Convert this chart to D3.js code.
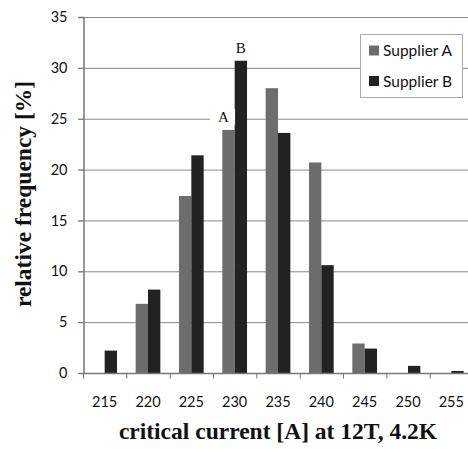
<!DOCTYPE html>
<html>
<head>
<meta charset="utf-8">
<script src="https://cdn.jsdelivr.net/npm/d3@7"></script>
<style>
  html, body { margin: 0; padding: 0; background: #fff; }
  svg { display: block; }
</style>
</head>
<body>
<svg id="chart" width="468" height="449"></svg>
<script>
// Critical current bins [A] at 12T, 4.2K
const categories = ["215", "220", "225", "230", "235", "240", "245", "250", "255"];
const seriesNames = ["Supplier A", "Supplier B"];
const supplierA = [0, 6.8, 17.4, 23.9, 28.0, 20.7, 2.9, 0, 0];
const supplierB = [2.2, 8.2, 21.4, 30.7, 23.6, 10.6, 2.4, 0.7, 0.2];
const yTicks = [0, 5, 10, 15, 20, 25, 30, 35];
const colors = ["#6d6d6d", "#222222"];
// Letters marking the peak bars of each supplier
const annotations = [
  { series: 0, cat: "230", text: "A", dx: -5 },
  { series: 1, cat: "230", text: "B", dx: 0 }
];

const svg = d3.select("#chart");
const plotLeft = 83, plotRight = 473, plotTop = 17, plotBottom = 373;

const x0 = d3.scaleBand().domain(categories).range([plotLeft, plotRight])
  .paddingInner(0.43).paddingOuter(0.215);
const x1 = d3.scaleBand().domain(seriesNames).range([0, x0.bandwidth()]);
const y = d3.scaleLinear().domain([0, 35]).range([plotBottom, plotTop]);

const series = [supplierA, supplierB];
const sansFont = "Lato, 'Open Sans', sans-serif";
const serifFont = "'Liberation Serif', 'Times New Roman', serif";

// Horizontal gridlines
svg.append("g")
  .selectAll("line")
  .data(yTicks.filter(d => d > 0))
  .join("line")
  .attr("x1", plotLeft - 5).attr("x2", 468)
  .attr("y1", d => y(d) + 0.5).attr("y2", d => y(d) + 0.5)
  .attr("stroke", "#8a8a8a").attr("stroke-width", 1);

// Bars
const groups = svg.append("g")
  .selectAll("g")
  .data(categories)
  .join("g")
  .attr("transform", d => `translate(${x0(d)},0)`);

groups.selectAll("rect")
  .data((c, i) => seriesNames.map((s, k) => ({ s, k, v: series[k][i] })).filter(d => d.v > 0))
  .join("rect")
  .attr("x", d => x1(d.s))
  .attr("width", x1.bandwidth())
  .attr("y", d => y(d.v))
  .attr("height", d => y(0) - y(d.v))
  .attr("fill", d => colors[d.k]);

// Y axis
const yAxis = svg.append("g")
  .attr("transform", `translate(${plotLeft + 0.5},0)`)
  .call(d3.axisLeft(y).tickValues(yTicks).tickSize(5).tickPadding(11));
yAxis.select(".domain").attr("stroke", "#777").attr("stroke-width", 1.5);
yAxis.selectAll(".tick line").attr("stroke", "#777");
yAxis.selectAll("text")
  .attr("font-family", sansFont)
  .attr("font-size", 14.5).attr("fill", "#111");

// X axis with ticks at band boundaries
const xAxisG = svg.append("g")
  .attr("transform", `translate(0,${plotBottom + 0.5})`);
xAxisG.append("line")
  .attr("x1", plotLeft).attr("x2", 468)
  .attr("stroke", "#777").attr("stroke-width", 1.5);
const step = x0.step();
xAxisG.selectAll(".bt")
  .data(categories)
  .join("line")
  .attr("class", "bt")
  .attr("x1", d => x0(d) - (x0.paddingInner() * step) / 2 + 0.5)
  .attr("x2", d => x0(d) - (x0.paddingInner() * step) / 2 + 0.5)
  .attr("y1", 0).attr("y2", 5)
  .attr("stroke", "#777");
xAxisG.selectAll(".lbl")
  .data(categories)
  .join("text")
  .attr("class", "lbl")
  .attr("x", d => x0(d) + x0.bandwidth() / 2)
  .attr("y", 33)
  .attr("text-anchor", "middle")
  .attr("font-family", sansFont)
  .attr("font-size", 14.5).attr("fill", "#111")
  .text(d => d);

// Annotation letters above the peak bars
annotations.forEach(a => {
  const ci = categories.indexOf(a.cat);
  const cx = x0(a.cat) + x1(seriesNames[a.series]) + x1.bandwidth() / 2 + a.dx;
  const ty = y(series[a.series][ci]) - 8;
  const t = svg.append("text")
    .attr("x", cx).attr("y", ty)
    .attr("text-anchor", "middle")
    .attr("font-family", serifFont)
    .attr("font-size", 15).attr("fill", "#111")
    .text(a.text);
  const bb = t.node().getBBox();
  if (a.series === 0) {
    // white backing so the gridline breaks around the letter
    svg.insert("rect", () => t.node())
      .attr("x", bb.x - 8).attr("y", bb.y)
      .attr("width", bb.width + 14).attr("height", bb.height)
      .attr("fill", "#fff");
  }
});

// Legend
const lg = svg.append("g");
lg.append("rect")
  .attr("x", 360.5).attr("y", 34.5).attr("width", 102).attr("height", 63)
  .attr("fill", "#fff").attr("stroke", "#aaa");
seriesNames.forEach((s, k) => {
  const cy = 50.5 + k * 30.5;
  lg.append("rect")
    .attr("x", 369).attr("y", cy - 5).attr("width", 10).attr("height", 10)
    .attr("fill", colors[k]);
  lg.append("text")
    .attr("x", 383).attr("y", cy + 5.5)
    .attr("font-family", sansFont)
    .attr("font-size", 15.5).attr("fill", "#111")
    .text(s);
});

// Axis titles
svg.append("text")
  .attr("x", (plotLeft + plotRight) / 2).attr("y", 439)
  .attr("text-anchor", "middle")
  .attr("font-family", serifFont)
  .attr("font-weight", "bold").attr("font-size", 23.5).attr("fill", "#111")
  .text("critical current [A] at 12T, 4.2K");

svg.append("text")
  .attr("transform", "translate(31,194) rotate(-90)")
  .attr("text-anchor", "middle")
  .attr("font-family", serifFont)
  .attr("font-weight", "bold").attr("font-size", 23.5).attr("fill", "#111")
  .text("relative frequency [%]");
</script>
</body>
</html>
